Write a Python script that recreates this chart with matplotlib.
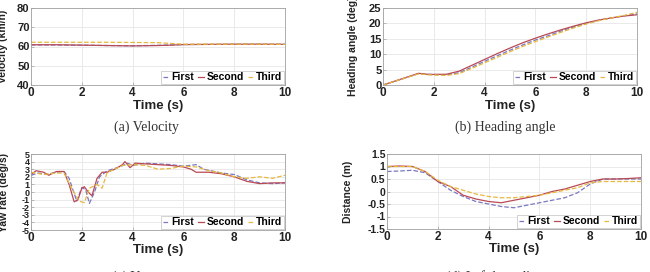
import matplotlib.pyplot as plt

# ---- data ----
t_vel = [0, 1, 2, 3, 4, 5, 5.5, 6, 7, 8, 9, 10]
vel_first = [60.8, 60.8, 60.7, 60.5, 60.4, 60.6, 60.8, 61.0, 61.1, 61.2, 61.2, 61.2]
vel_second = [60.9, 60.9, 60.7, 60.5, 60.3, 60.5, 60.7, 61.0, 61.1, 61.2, 61.2, 61.1]
vel_third = [62.2, 62.2, 62.2, 62.2, 62.1, 62.0, 61.6, 61.2, 61.2, 61.2, 61.2, 61.1]

t_head = [0, 0.7, 1.4, 1.8, 2.5, 3.0, 3.5, 4.0, 4.5, 5.0, 5.5, 6.0, 6.5, 7.0, 7.5, 8.0, 8.5, 9.0, 9.5, 10]
head_first = [0, 1.8, 3.7, 3.5, 3.3, 4.0, 5.8, 7.7, 9.5, 11.3, 13.0, 14.6, 16.0, 17.5, 18.8, 20.0, 21.0, 21.8, 22.5, 23.1]
head_second = [0, 1.9, 3.8, 3.4, 3.5, 4.5, 6.4, 8.3, 10.2, 12.0, 13.7, 15.2, 16.6, 17.9, 19.1, 20.2, 21.1, 21.8, 22.4, 22.8]
head_third = [0, 1.8, 3.6, 3.3, 3.1, 3.7, 5.4, 7.2, 9.0, 10.8, 12.5, 14.1, 15.6, 17.1, 18.5, 19.8, 20.9, 21.8, 22.6, 23.6]

t_yaw1 = [0, 0.3, 0.6, 1.0, 1.3, 1.5, 1.8, 2.0, 2.15, 2.3, 2.5, 2.7, 3.0, 3.5, 3.8, 4.0, 4.5, 5.0, 5.5, 6.0, 6.5, 6.8, 7.5, 8.0, 8.5, 9.0, 9.5, 10]
yaw_first = [2.2, 2.5, 2.3, 2.6, 2.7, 1.8, -1.2, 0.6, 0.3, -1.5, 0.0, 2.0, 2.8, 3.3, 3.8, 3.5, 3.8, 3.7, 3.6, 3.4, 3.6, 3.0, 2.5, 2.3, 1.6, 1.2, 1.1, 1.2]
t_yaw2 = [0, 0.2, 0.5, 0.7, 1.0, 1.3, 1.5, 1.7, 1.85, 2.0, 2.1, 2.25, 2.4, 2.6, 2.8, 3.0, 3.3, 3.6, 3.7, 3.9, 4.1, 4.5, 5.0, 5.5, 6.0, 6.3, 6.5, 7.0, 7.5, 8.0, 8.5, 9.0, 9.5, 10]
yaw_second = [2.3, 2.8, 2.6, 2.2, 2.7, 2.7, 1.0, -1.3, -1.0, 0.5, 0.7, 0.0, -0.5, 1.8, 2.6, 2.6, 3.0, 3.6, 4.0, 3.2, 3.8, 3.7, 3.6, 3.5, 3.3, 3.0, 2.6, 2.6, 2.4, 2.0, 1.4, 1.1, 1.2, 1.2]
t_yaw3 = [0, 0.5, 1.0, 1.3, 1.6, 1.9, 2.1, 2.3, 2.6, 2.8, 3.0, 3.3, 3.6, 4.0, 4.5, 5.0, 5.5, 6.0, 6.5, 7.0, 7.5, 8.0, 8.5, 9.0, 9.5, 10]
yaw_third = [2.6, 2.3, 2.5, 2.5, 0.5, -1.2, -1.4, 0.5, 1.0, 0.5, 2.6, 3.0, 3.5, 3.6, 3.5, 3.0, 3.1, 3.4, 3.3, 2.8, 2.5, 2.0, 1.8, 2.0, 1.8, 2.2]

t_dist = [0, 0.5, 1.0, 1.5, 2.0, 2.5, 3.0, 3.5, 4.0, 4.5, 5.0, 5.5, 6.0, 6.5, 7.0, 7.5, 8.0, 8.5, 9.0, 9.5, 10]
dist_first = [0.8, 0.82, 0.85, 0.75, 0.4, 0.05, -0.2, -0.4, -0.5, -0.6, -0.65, -0.55, -0.45, -0.35, -0.25, -0.05, 0.3, 0.5, 0.5, 0.5, 0.5]
dist_second = [1.0, 1.02, 1.0, 0.8, 0.4, 0.2, -0.15, -0.3, -0.4, -0.45, -0.35, -0.25, -0.15, 0.0, 0.1, 0.25, 0.4, 0.5, 0.5, 0.52, 0.55]
dist_third = [1.0, 1.0, 1.0, 0.8, 0.45, 0.2, 0.05, -0.1, -0.2, -0.25, -0.25, -0.2, -0.15, -0.05, 0.05, 0.15, 0.35, 0.4, 0.4, 0.4, 0.4]

labels = ['First', 'Second', 'Third']
captions = ['(a) Velocity', '(b) Heading angle', '(c) Yaw rate', '(d) Left lane distance']

c_first = '#7a78c0'
c_second = '#b84a55'
c_third = '#e8b840'

plt.rcParams['font.family'] = ['Liberation Sans', 'DejaVu Sans']
plt.rcParams['font.weight'] = 'bold'

fig = plt.figure(figsize=(6.5, 2.72), dpi=100)

panels = [
    dict(rect=[31/650, 1-85/272, 254/650, 77/272],
         series=[(t_vel, vel_first), (t_vel, vel_second), (t_vel, vel_third)],
         ylim=(40, 80), yticks=[40, 50, 60, 70, 80], ylabel='Velocity (km/h)', ylx=-0.092, yts=8),
    dict(rect=[383/650, 1-85/272, 254/650, 77/272],
         series=[(t_head, head_first), (t_head, head_second), (t_head, head_third)],
         ylim=(0, 25), yticks=[0, 5, 10, 15, 20, 25], ylabel='Heading angle (deg)', ylx=-0.1, yts=8),
    dict(rect=[31/650, 1-230/272, 254/650, 76/272],
         series=[(t_yaw1, yaw_first), (t_yaw2, yaw_second), (t_yaw3, yaw_third)],
         ylim=(-5, 5), yticks=list(range(-5, 6)), ylabel='Yaw rate (deg/s)', ylx=-0.088, yts=6.5),
    dict(rect=[387/650, 1-229/272, 254/650, 75/272],
         series=[(t_dist, dist_first), (t_dist, dist_second), (t_dist, dist_third)],
         ylim=(-1.5, 1.5), yticks=[-1.5, -1, -0.5, 0, 0.5, 1, 1.5], ylabel='Distance (m)', ylx=-0.134, yts=7.5),
]

styles = [dict(color=c_first, ls='--'), dict(color=c_second, ls='-'), dict(color=c_third, ls='--')]

for p in panels:
    ax = fig.add_axes(p['rect'])
    for (t, y), st, lab in zip(p['series'], styles, labels):
        ax.plot(t, y, lw=0.9, label=lab, **st)
    ax.set_xlim(0, 10)
    ax.set_ylim(*p['ylim'])
    ax.set_xticks([0, 2, 4, 6, 8, 10])
    ax.set_yticks(p['yticks'])
    ax.set_yticklabels([f'{v:g}' for v in p['yticks']])
    ax.grid(True, color='#e6e6e6', lw=0.6)
    ax.set_axisbelow(True)
    for s in ax.spines.values():
        s.set_color('#a0a0a0')
        s.set_linewidth(0.6)
    ax.tick_params(direction='in', length=2, width=0.5, color='#a0a0a0',
                   labelsize=8.5, pad=1.5, labelcolor='#222222')
    ax.tick_params(axis='y', labelsize=p['yts'], pad=1)
    ax.set_xlabel('Time (s)', fontsize=9.5, fontweight='bold', color='#222222')
    ax.xaxis.set_label_coords(0.5, -0.19)
    ax.set_ylabel(p['ylabel'], fontsize=7.5, fontweight='bold', color='#222222')
    ax.yaxis.set_label_coords(p['ylx'], 0.5)
    leg = ax.legend(loc='lower right', ncol=3, handlelength=0.6,
                    handletextpad=0.2, columnspacing=0.4, borderpad=0.15,
                    borderaxespad=0.1, fancybox=False, framealpha=1,
                    edgecolor='#c0c0c0', prop=dict(weight='bold', size=7.5))
    leg.get_frame().set_linewidth(0.5)

cap_pos = [(146/650, 1-127/272), (505/650, 1-127/272), (146/650, 1-277/272), (505/650, 1-277/272)]
for (x, y), cap in zip(cap_pos, captions):
    fig.text(x, y, cap, ha='center', va='center', fontsize=10,
             family=['Liberation Serif', 'DejaVu Serif'], fontweight='normal', color='#333333')

fig.savefig('out.png', dpi=100)
